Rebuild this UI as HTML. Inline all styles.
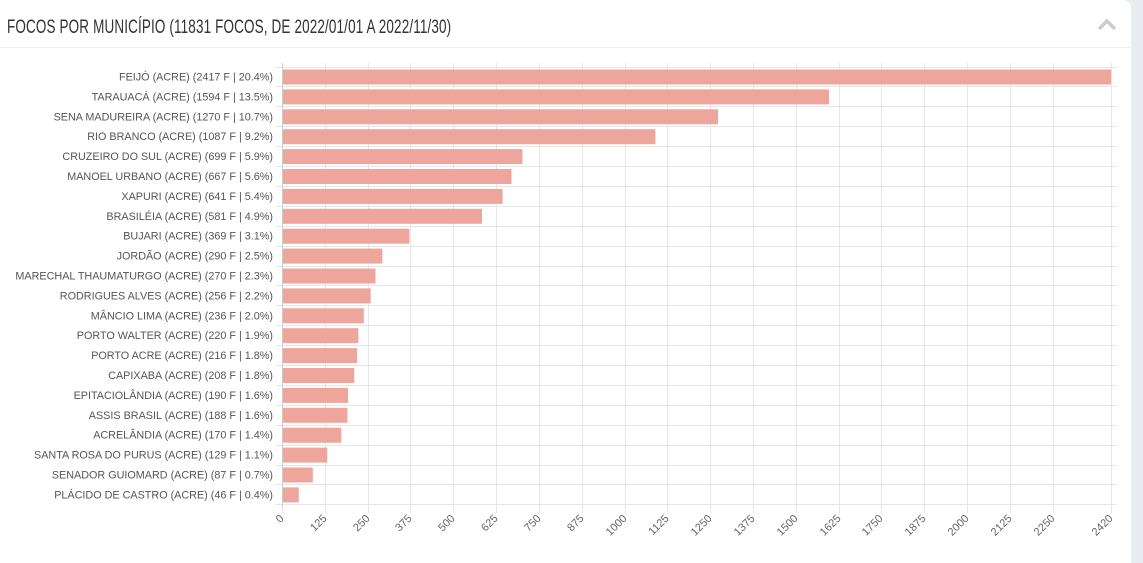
<!DOCTYPE html>
<html><head><meta charset="utf-8"><style>
body{margin:0;width:1143px;height:563px;background:#e9ecf1;overflow:hidden;font-family:"Liberation Sans",sans-serif}
#p{position:absolute;left:0;top:0;width:1131px;height:563px;background:#fff;border-top-right-radius:8px}
</style></head><body><div id="p"></div>
<svg id="s" width="1143" height="563" style="position:absolute;left:0;top:0" xmlns="http://www.w3.org/2000/svg"></svg>
<script>
var d=[["FEIJÓ (ACRE) (2417 F | 20.4%)",2417],["TARAUACÁ (ACRE) (1594 F | 13.5%)",1594],["SENA MADUREIRA (ACRE) (1270 F | 10.7%)",1270],["RIO BRANCO (ACRE) (1087 F | 9.2%)",1087],["CRUZEIRO DO SUL (ACRE) (699 F | 5.9%)",699],["MANOEL URBANO (ACRE) (667 F | 5.6%)",667],["XAPURI (ACRE) (641 F | 5.4%)",641],["BRASILÉIA (ACRE) (581 F | 4.9%)",581],["BUJARI (ACRE) (369 F | 3.1%)",369],["JORDÃO (ACRE) (290 F | 2.5%)",290],["MARECHAL THAUMATURGO (ACRE) (270 F | 2.3%)",270],["RODRIGUES ALVES (ACRE) (256 F | 2.2%)",256],["MÂNCIO LIMA (ACRE) (236 F | 2.0%)",236],["PORTO WALTER (ACRE) (220 F | 1.9%)",220],["PORTO ACRE (ACRE) (216 F | 1.8%)",216],["CAPIXABA (ACRE) (208 F | 1.8%)",208],["EPITACIOLÂNDIA (ACRE) (190 F | 1.6%)",190],["ASSIS BRASIL (ACRE) (188 F | 1.6%)",188],["ACRELÂNDIA (ACRE) (170 F | 1.4%)",170],["SANTA ROSA DO PURUS (ACRE) (129 F | 1.1%)",129],["SENADOR GUIOMARD (ACRE) (87 F | 0.7%)",87],["PLÁCIDO DE CASTRO (ACRE) (46 F | 0.4%)",46]];
var x0=282,k=(1111-282)/2420,y0=66.5,h=19.9,g='';
g+='<text x="7" y="33" font-size="19" fill="#333" transform="translate(7,0) scale(0.71,1) translate(-7,0)" style="letter-spacing:0.2px">FOCOS POR MUNICÍPIO (11831 FOCOS, DE 2022/01/01 A 2022/11/30)</text>';
g+='<line x1="0" y1="47.5" x2="1131" y2="47.5" stroke="#eee"/>';
g+='<path d="M1099 29 L1107 21 L1115 29" fill="none" stroke="#ccc" stroke-width="3.5"/>';
var ticks=[];for(var t=0;t<=2250;t+=125)ticks.push(t);ticks.push(2420);
ticks.forEach(function(t){var x=Math.round(x0+t*k)+0.5;g+='<line x1="'+x+'" y1="63" x2="'+x+'" y2="513" stroke="#e6e6e6"/>';
g+='<text x="'+(x+2)+'" y="519" font-size="11" fill="#666" text-anchor="end" transform="rotate(-45 '+(x+2)+' 519)">'+t+'</text>';});
for(var i=0;i<=22;i++){var y=Math.round(y0+i*h)+0.5;g+='<line x1="276" y1="'+y+'" x2="1117" y2="'+y+'" stroke="#e6e6e6"/>';}
d.forEach(function(r,i){var y=y0+i*h;g+='<rect x="'+(x0+1)+'" y="'+(y+3)+'" width="'+(r[1]*k)+'" height="15" fill="#eea59b"/>';
g+='<text x="273" y="'+(y+14)+'" font-size="10.8" fill="#555" text-anchor="end">'+r[0]+'</text>';});
g+='<line x1="282.5" y1="63" x2="282.5" y2="507" stroke="#ccc"/>';
document.getElementById('s').innerHTML=g;
</script></body></html>
